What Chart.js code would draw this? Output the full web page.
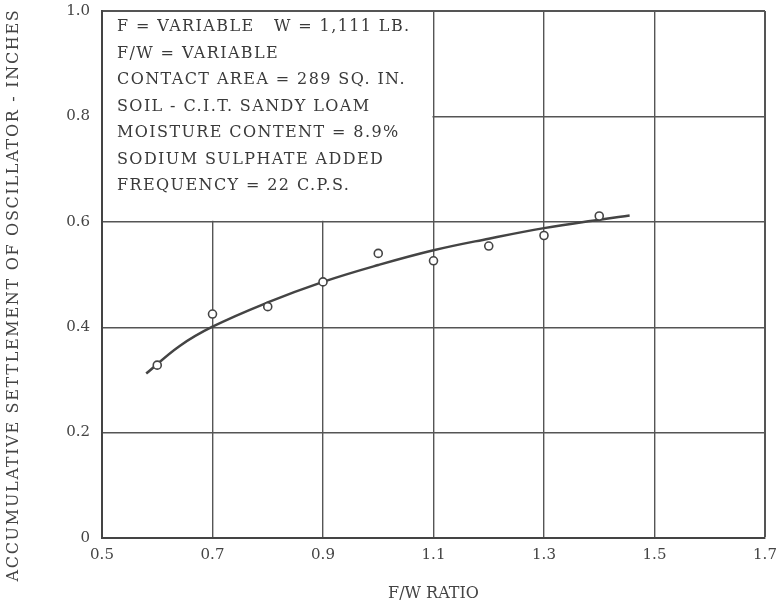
<!DOCTYPE html>
<html>
<head>
<meta charset="utf-8">
<script src="https://cdn.jsdelivr.net/npm/chart.js@4.4.1/dist/chart.umd.min.js"></script>
<style>
    html, body { margin: 0; padding: 0; background: #fff; }
    #wrap { width: 778px; height: 607px; position: relative; }
</style>
</head>
<body>
<div id="wrap"><canvas id="settlementChart"></canvas></div>
<script>
// Measured points (F/W ratio vs settlement, inches)
const ratioPoints = [0.6, 0.7, 0.8, 0.9, 1.0, 1.1, 1.2, 1.3, 1.4];
const settlementPoints = [0.328, 0.425, 0.439, 0.486, 0.540, 0.526, 0.554, 0.574, 0.611];

// Faired curve through the points
const ratioCurve = [0.58, 0.64, 0.7, 0.8, 0.9, 1.0, 1.1, 1.2, 1.3, 1.4, 1.455];
const settlementCurve = [0.312, 0.364, 0.401, 0.447, 0.486, 0.518, 0.546, 0.568, 0.588, 0.604, 0.612];

const xTicks = [0.5, 0.7, 0.9, 1.1, 1.3, 1.5, 1.7];
const yTicks = [0, 0.2, 0.4, 0.6, 0.8, 1.0];

const notes = [
    "F = VARIABLE   W = 1,111 LB.",
    "F/W = VARIABLE",
    "CONTACT AREA = 289 SQ. IN.",
    "SOIL - C.I.T. SANDY LOAM",
    "MOISTURE CONTENT = 8.9%",
    "SODIUM SULPHATE ADDED",
    "FREQUENCY = 22 C.P.S."
];
const notesCorner = { x: 1.1, y: 0.6 };

const yTitle = "ACCUMULATIVE SETTLEMENT OF OSCILLATOR - INCHES";
const xTitle = "F/W RATIO";

const ink = '#444';
const serif = "'DejaVu Serif', 'Liberation Serif', serif";

// white panel with the test conditions, bounded by the grid lines
const notesPanel = {
    id: 'notesPanel',
    beforeDatasetsDraw(chart) {
        const { ctx, chartArea, scales } = chart;
        const right = scales.x.getPixelForValue(notesCorner.x);
        const bottom = scales.y.getPixelForValue(notesCorner.y);
        ctx.save();
        ctx.fillStyle = '#fff';
        ctx.fillRect(chartArea.left + 1, chartArea.top + 1, right - chartArea.left - 2, bottom - chartArea.top - 2);
        ctx.fillStyle = '#3a3a3a';
        ctx.font = '16px ' + serif;
        ctx.letterSpacing = '1.4px';
        ctx.textBaseline = 'middle';
        notes.forEach((line, i) => {
            ctx.fillText(line, chartArea.left + 15, chartArea.top + 16 + i * 26.5);
        });
        ctx.restore();
    },
    afterDraw(chart) {
        const { ctx } = chart;
        ctx.save();
        ctx.translate(14, 295);
        ctx.rotate(-Math.PI / 2);
        ctx.fillStyle = ink;
        ctx.font = '16px ' + serif;
        ctx.letterSpacing = '1.7px';
        ctx.textAlign = 'center';
        ctx.textBaseline = 'middle';
        ctx.fillText(yTitle, 0, 0);
        ctx.restore();
    }
};

function setupChart() {
    const ctx = document.getElementById('settlementChart');

    new Chart(ctx, {
        type: 'scatter',
        data: {
            datasets: [
                {
                    label: 'curve',
                    data: ratioCurve.map((x, i) => ({ x: x, y: settlementCurve[i] })),
                    showLine: true,
                    borderColor: ink,
                    borderWidth: 2.5,
                    pointRadius: 0,
                    tension: 0.4,
                    order: 2
                },
                {
                    label: 'test',
                    data: ratioPoints.map((x, i) => ({ x: x, y: settlementPoints[i] })),
                    pointRadius: 4,
                    pointBorderWidth: 1.6,
                    pointBorderColor: ink,
                    pointBackgroundColor: '#fff',
                    order: 1
                }
            ]
        },
        options: {
            responsive: true,
            maintainAspectRatio: false,
            animation: false,
            layout: { padding: { top: 11, right: 13, left: 0, bottom: 0 } },
            plugins: {
                legend: { display: false },
                tooltip: { enabled: false }
            },
            scales: {
                x: {
                    type: 'linear',
                    min: 0.5,
                    max: 1.7,
                    afterBuildTicks: s => { s.ticks = xTicks.map(v => ({ value: v })); },
                    afterFit: s => {
                        s.height = 69;
                        s.paddingLeft = 0;
                        s.paddingRight = 0;
                    },
                    grid: {
                        color: '#555',
                        lineWidth: c => (c.tick.value === 1.7 ? 2 : 1.4),
                        drawTicks: false
                    },
                    border: { display: true, color: '#444', width: 2 },
                    ticks: {
                        color: ink,
                        padding: 8,
                        maxRotation: 0,
                        font: { family: serif, size: 15 },
                        callback: v => v.toFixed(1)
                    },
                    title: {
                        display: true,
                        text: xTitle,
                        color: ink,
                        padding: { top: 0, bottom: 4 },
                        font: { family: serif, size: 16 }
                    }
                },
                y: {
                    min: 0,
                    max: 1.0,
                    afterBuildTicks: s => { s.ticks = yTicks.map(v => ({ value: v })); },
                    afterFit: s => {
                        s.width = 102;
                        s.paddingTop = 0;
                        s.paddingBottom = 0;
                    },
                    grid: {
                        color: '#555',
                        lineWidth: c => (c.tick.value === 1.0 ? 2 : 1.4),
                        drawTicks: false
                    },
                    border: { display: true, color: '#444', width: 2 },
                    ticks: {
                        color: ink,
                        padding: 12,
                        font: { family: serif, size: 15 },
                        callback: v => (v === 0 ? '0' : v.toFixed(1))
                    }
                }
            }
        },
        plugins: [notesPanel]
    });
}

document.addEventListener('DOMContentLoaded', setupChart);
</script>
</body>
</html>
